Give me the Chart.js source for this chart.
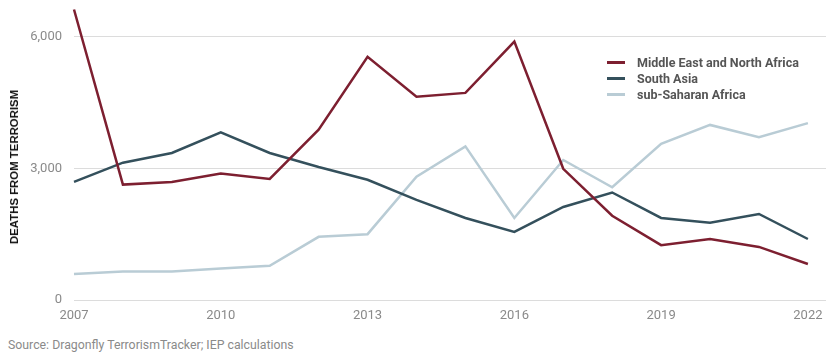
<!DOCTYPE html>
<html>
<head>
<meta charset="utf-8">
<script src="https://cdn.jsdelivr.net/npm/chart.js@4.4.0/dist/chart.umd.min.js"></script>
<style>
  html, body { margin: 0; padding: 0; background: #fff; }
  #wrap { position: relative; width: 829px; height: 353px; font-family: Roboto, "Liberation Sans", sans-serif; }
  #box { position: absolute; left: 0; top: 0; width: 829px; height: 326px; }
  #ytitle { position: absolute; left: 14px; top: 167px; transform: translate(-50%, -50%) rotate(-90deg);
            font: bold 11.4px "Liberation Sans", Arial, sans-serif; color: #111; white-space: nowrap; }
  #legend { position: absolute; left: 607px; top: 55px; font-weight: bold; font-size: 12.5px; color: #555; }
  #legend div { height: 16px; line-height: 16px; white-space: nowrap; }
  #legend span { display: inline-block; width: 18px; height: 3px; vertical-align: middle; margin-right: 12px; margin-top: -2px; }
  #source { position: absolute; left: 8px; top: 338px; font-size: 12.3px; color: #8a8a8a; white-space: nowrap; }
</style>
</head>
<body>
<div id="wrap">
  <div id="box"><canvas id="chart"></canvas></div>
  <div id="ytitle">DEATHS FROM TERRORISM</div>
  <div id="legend"></div>
  <div id="source">Source: Dragonfly TerrorismTracker; IEP calculations</div>
</div>
<script>
var years = [2007, 2008, 2009, 2010, 2011, 2012, 2013, 2014, 2015, 2016, 2017, 2018, 2019, 2020, 2021, 2022];
var menaDeaths = [6620, 2630, 2690, 2880, 2760, 3880, 5540, 4630, 4720, 5890, 2990, 1920, 1250, 1390, 1210, 820];
var southAsiaDeaths = [2690, 3130, 3350, 3820, 3350, 3030, 2740, 2280, 1870, 1550, 2120, 2450, 1870, 1760, 1960, 1390];
var ssaDeaths = [590, 650, 650, 720, 780, 1440, 1500, 2810, 3500, 1870, 3190, 2570, 3560, 3990, 3710, 4030];
var xTicks = [2007, 2010, 2013, 2016, 2019, 2022];
var yTicks = [0, 3000, 6000];

var seriesNames = ["Middle East and North Africa", "South Asia", "sub-Saharan Africa"];
var seriesColors = ["#7d1f30", "#34505c", "#b9ccd5"];
var seriesData = [menaDeaths, southAsiaDeaths, ssaDeaths];

var datasets = seriesData.map(function (vals, i) {
  return {
    label: seriesNames[i],
    data: vals.map(function (v, j) { return { x: years[j], y: v }; }),
    borderColor: seriesColors[i],
    backgroundColor: seriesColors[i],
    borderWidth: 2.5,
    pointRadius: 0,
    tension: 0,
    clip: false
  };
});

// legend in html
var legend = document.getElementById("legend");
seriesNames.forEach(function (name, i) {
  var row = document.createElement("div");
  row.innerHTML = '<span style="background:' + seriesColors[i] + '"></span>' + name;
  legend.appendChild(row);
});

new Chart(document.getElementById("chart"), {
  type: "line",
  data: { datasets: datasets },
  options: {
    responsive: true,
    maintainAspectRatio: false,
    animation: false,
    layout: { padding: { top: 6, right: 3, left: 0, bottom: 0 } },
    plugins: { legend: { display: false }, tooltip: { enabled: false } },
    scales: {
      x: {
        type: "linear",
        min: 2007,
        max: 2022.37,
        grid: { display: false, drawTicks: false },
        border: { display: false },
        afterBuildTicks: function (scale) {
          scale.ticks = xTicks.map(function (v) { return { value: v }; });
        },
        afterFit: function (scale) { scale.height = 26; scale.paddingLeft = 0; scale.paddingRight = 0; },
        ticks: {
          padding: 8,
          maxRotation: 0,
          color: "#8a8a8a",
          font: { family: "Roboto", size: 13 },
          callback: function (v) { return String(v); }
        }
      },
      y: {
        min: 0,
        max: 6700,
        border: { display: false },
        grid: { color: "#dcdcdc", lineWidth: 1, drawTicks: false },
        afterBuildTicks: function (scale) {
          scale.ticks = yTicks.map(function (v) { return { value: v }; });
        },
        afterFit: function (scale) { scale.width = 74; scale.paddingTop = 0; scale.paddingBottom = 0; },
        ticks: {
          padding: 12,
          color: "#8a8a8a",
          font: { family: "Roboto", size: 13 },
          callback: function (v) { return v.toLocaleString("en-US"); }
        }
      }
    }
  }
});
</script>
</body>
</html>
